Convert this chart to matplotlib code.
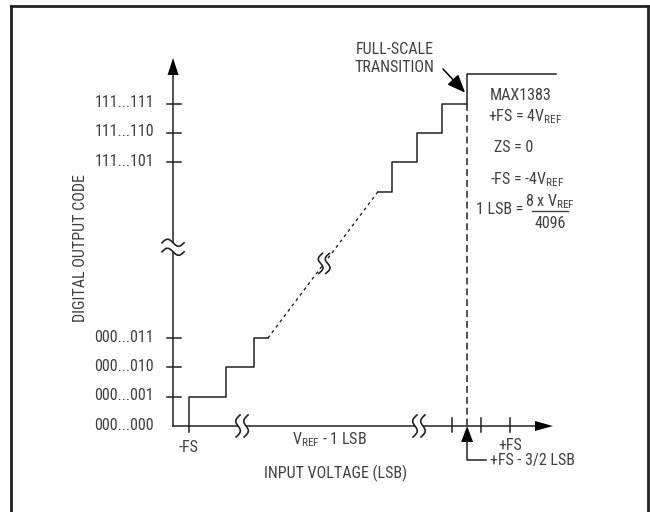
import numpy as np
import matplotlib
matplotlib.use('Agg')
from matplotlib import pyplot as plt
from matplotlib import font_manager
from matplotlib.lines import Line2D

# --------------------------------------------------------------------------
# Diagram data (x in LSB from -FS, y in output code steps)
# --------------------------------------------------------------------------
low_codes = [0, 1, 2, 3]
low_labels = ['000...000', '000...001', '000...010', '000...011']
high_codes = [9, 10, 11]
high_labels = ['111...101', '111...110', '111...111']

# lower staircase corners
low_step_x = [0, 0, 1.28, 2.24, 2.72]
low_step_y = [0, 1, 2, 3, 3]
# upper staircase corners
high_step_x = [6.52, 7.0, 7.86, 8.72, 9.59, 12.66]
high_step_y = [8, 9, 10, 11, 12, 12]

fs_transition = 9.59          # +FS - 3/2 LSB
x_ticks = [9.07, 10.07, 11.07]
plus_fs = 11.07
y_axis_x = -0.55
x_axis_end = 12.55
y_axis_end = 12.56

# break marks: (x, y)
x_breaks = [1.83, 7.93]
y_break = 6.1
line_break = (4.66, 5.55)

# --------------------------------------------------------------------------
# Styling
# --------------------------------------------------------------------------
PX = 29.0   # pixels per LSB
PY = 29.3   # pixels per code
X0 = 189
Y0 = 426
LC = '#222222'
TC = '#404040'
LW = 1.1

# pick a condensed sans if one is installed
installed = {f.name for f in font_manager.fontManager.ttflist}
font = 'Liberation Sans'
FS = 10
for cand in ['Liberation Sans Narrow', 'Roboto Condensed', 'Arial Narrow',
             'Open Sans Condensed', 'Noto Sans Condensed']:
    if cand in installed:
        font = cand
        FS = 11.5
        break
plt.rcParams['font.family'] = [font, 'DejaVu Sans']
plt.rcParams['mathtext.fontset'] = 'custom'
plt.rcParams['mathtext.rm'] = font


def dx(p):
    return p / PX


def dy(p):
    return p / PY


fig = plt.figure(figsize=(6.5, 5.12), dpi=100)
ax = fig.add_axes([0, 0, 1, 1])
ax.axis('off')
ax.set_xlim(-X0 / PX, (650 - X0) / PX)
ax.set_ylim(-(512 - Y0) / PY, Y0 / PY)

# outer frame
for xs, ys in [([11 / 650, 11 / 650], [0, 1 - 6 / 512]),
               ([11 / 650, 648 / 650], [1 - 6 / 512, 1 - 6 / 512]),
               ([648 / 650, 648 / 650], [0, 1 - 6 / 512])]:
    fig.add_artist(Line2D(xs, ys, color=LC, lw=2.0, transform=fig.transFigure))

# axes lines
ax.plot([y_axis_x, x_axis_end - dx(18)], [0, 0], color=LC, lw=LW)
ax.plot([y_axis_x, y_axis_x], [0, y_axis_end - dy(17)], color=LC, lw=LW)
ax.fill([x_axis_end, x_axis_end - dx(18), x_axis_end - dx(18)],
        [0, dy(5), -dy(5)], color='black', lw=0)
ax.fill([y_axis_x, y_axis_x - dx(5.5), y_axis_x + dx(5.5)],
        [y_axis_end, y_axis_end - dy(17), y_axis_end - dy(17)], color='black', lw=0)

# y ticks + labels
for c, lab in zip(low_codes + high_codes, low_labels + high_labels):
    if c > 0:
        ax.plot([y_axis_x - dx(6), y_axis_x + dx(8)], [c, c], color=LC, lw=LW)
    ax.text(y_axis_x - dx(19), c + dy(1), lab, ha='right', va='center',
            fontsize=FS, color=TC)

# x ticks
for t in x_ticks:
    ax.plot([t, t], [-dy(6), dy(8)], color=LC, lw=LW)
ax.plot([0, 0], [-dy(6), 0], color=LC, lw=LW)

# staircases
ax.step(low_step_x, low_step_y, where='post', color=LC, lw=LW)
ax.step(high_step_x, high_step_y, where='post', color=LC, lw=LW)

# dotted connection
ax.plot([low_step_x[-1], high_step_x[0]], [low_step_y[-1], high_step_y[0]],
        color=LC, lw=1.0, linestyle=(0, (2.2, 2.6)))

# dashed full-scale line
ax.plot([fs_transition, fs_transition], [high_step_y[3], 0],
        color=LC, lw=LW, linestyle=(0, (4.5, 2.6)))

# arrow up to the transition from below
ax.fill([fs_transition, fs_transition - dx(6), fs_transition + dx(6)],
        [0, -dy(16), -dy(16)], color='black', lw=0)
ax.plot([fs_transition, fs_transition, fs_transition + dx(19)],
        [-dy(16), -dy(34), -dy(34)], color=LC, lw=LW)


# break marks
def s_curve(t, amp, h):
    return -amp * np.sin(2 * np.pi * t), h * (0.5 - t)


t = np.linspace(0, 1, 60)


def vertical_break(xc, yc, gap=8, amp=3.2, h=22):
    sx, sy = s_curve(t, amp, h)
    sx = sx + 0.18 * sy
    x1 = xc + dx(sx - gap / 2)
    x2 = xc + dx(sx + gap / 2)
    yy = yc + dy(sy)
    ax.fill(np.r_[x1, x2[::-1]], np.r_[yy, yy[::-1]], color='white', lw=0, zorder=3)
    ax.plot(x1, yy, color=LC, lw=1.2, zorder=4)
    ax.plot(x2, yy, color=LC, lw=1.2, zorder=4)


def horizontal_break(xc, yc, gap=9, amp=3.5, w=22):
    sy, sx = s_curve(t, amp, w)
    y1 = yc + dy(sy - gap / 2)
    y2 = yc + dy(sy + gap / 2)
    xx = xc + dx(sx)
    ax.fill(np.r_[xx, xx[::-1]], np.r_[y1, y2[::-1]], color='white', lw=0, zorder=3)
    ax.plot(xx, y1, color=LC, lw=1.2, zorder=4)
    ax.plot(xx, y2, color=LC, lw=1.2, zorder=4)


for xb in x_breaks:
    vertical_break(xb, 0)
horizontal_break(y_axis_x, y_break)
vertical_break(line_break[0], line_break[1], gap=7, h=20)

# axis labels
ax.text(0, -dy(22), '-FS', ha='center', va='center', fontsize=FS, color=TC)
ax.text(4.86, -dy(14), r'$\mathregular{V_{REF}}$ - 1 LSB', ha='center', va='center',
        fontsize=FS, color=TC)
ax.text(5.07, -dy(47), 'INPUT VOLTAGE (LSB)', ha='center', va='center',
        fontsize=FS, color=TC)
ax.text(plus_fs, -dy(19), '+FS', ha='center', va='center', fontsize=FS, color=TC)
ax.text(fs_transition + dx(23), -dy(34), '+FS - 3/2 LSB', ha='left', va='center',
        fontsize=FS, color=TC)
ax.text(-X0 / PX + dx(80), dy(Y0 - 248), 'DIGITAL OUTPUT CODE', rotation=90,
        ha='center', va='center', fontsize=FS, color=TC)

# full-scale transition callout
ax.text(7.1, dy(Y0 - 50), 'FULL-SCALE', ha='center', va='center', fontsize=FS, color=TC)
ax.text(7.1, dy(Y0 - 68), 'TRANSITION', ha='center', va='center', fontsize=FS, color=TC)
ax.annotate('', xy=(fs_transition - dx(2), high_step_y[3] + dy(11)),
            xytext=(8.76, dy(Y0 - 69)),
            arrowprops=dict(arrowstyle='-|>,head_length=1.1,head_width=0.45',
                            color='black', lw=1.1, shrinkA=0, shrinkB=0))

# right-hand notes
ax.text(11.45, dy(Y0 - 96), 'MAX1383', ha='center', va='center', fontsize=FS, color=TC)
ax.text(11.59, dy(Y0 - 117), r'+FS = 4$\mathregular{V_{REF}}$', ha='center', va='center',
        fontsize=FS, color=TC)
ax.text(11.2, dy(Y0 - 148), 'ZS = 0', ha='center', va='center', fontsize=FS, color=TC)
ax.text(11.66, dy(Y0 - 180), r'-FS = -4$\mathregular{V_{REF}}$', ha='center', va='center',
        fontsize=FS, color=TC)
ax.text(11.52, dy(Y0 - 210), '1 LSB =', ha='right', va='center', fontsize=FS, color=TC)
ax.text(12.45, dy(Y0 - 202), r'8 x $\mathregular{V_{REF}}$', ha='center', va='center',
        fontsize=FS, color=TC)
ax.plot([11.83, 13.07], [dy(Y0 - 211), dy(Y0 - 211)], color=TC, lw=1.0)
ax.text(12.45, dy(Y0 - 223), '4096', ha='center', va='center', fontsize=FS, color=TC)

fig.savefig('out.png', dpi=100)
